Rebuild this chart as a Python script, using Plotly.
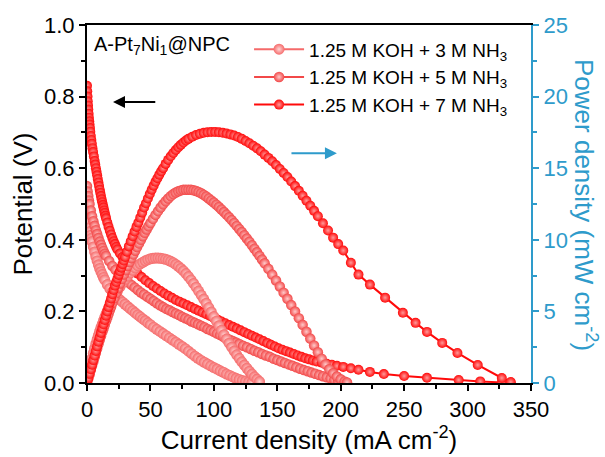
import plotly.graph_objects as go

# ---------------- data ----------------
labels = ["1.25 M KOH + 3 M NH<sub>3</sub>",
          "1.25 M KOH + 5 M NH<sub>3</sub>",
          "1.25 M KOH + 7 M NH<sub>3</sub>"]

# polarization curves: current density (mA cm-2) vs potential (V)
I_pol_3M = [0, 0.5, 1, 1.5, 2, 2.5, 3, 3.5, 4, 5,
            6, 7, 8, 9, 10, 11, 12, 13, 14, 16,
            18, 20, 22, 24, 26, 28, 30, 32, 34, 36,
            38, 40, 42, 44, 46, 48, 50, 52.5, 55, 57.5,
            60, 62.5, 65, 67.5, 70, 72.5, 75, 77.5, 80, 82.5,
            85, 87.5, 90, 92.5, 95, 97.5, 100, 102.5, 105, 107.5,
            110, 112.5, 115, 117.5, 120, 122.5, 125, 127.5, 130]
V_pol_3M = [0.50, 0.48, 0.462, 0.447, 0.434, 0.423, 0.413, 0.404, 0.395, 0.38,
            0.366, 0.353, 0.341, 0.33, 0.32, 0.311, 0.303, 0.295, 0.288, 0.275,
            0.264, 0.254, 0.246, 0.239, 0.232, 0.226, 0.22, 0.214, 0.208, 0.202,
            0.196, 0.19, 0.185, 0.179, 0.174, 0.168, 0.163, 0.156, 0.15, 0.144,
            0.138, 0.132, 0.126, 0.12, 0.114, 0.108, 0.102, 0.096, 0.089, 0.082,
            0.075, 0.069, 0.063, 0.058, 0.053, 0.048, 0.043, 0.039, 0.034, 0.03,
            0.025, 0.021, 0.017, 0.013, 0.01, 0.007, 0.005, 0.003, 0.001]

I_pol_5M = [0, 0.5, 1, 1.5, 2, 3, 4, 5, 6, 7,
            8, 9, 10, 11, 12, 13, 14, 15, 17.5, 20,
            22.5, 25, 27.5, 30, 32.5, 35, 37.5, 40, 42.5, 45,
            47.5, 50, 52.5, 55, 57.5, 60, 62.5, 65, 67.5, 70,
            72.5, 75, 77.5, 80, 82.5, 85, 87.5, 90, 92.5, 95,
            97.5, 100, 102.5, 105, 107.5, 110, 112.5, 115, 117.5, 120,
            123, 126, 129, 132, 135, 138, 141, 144, 147, 150,
            153, 156, 159, 162, 165, 168, 171, 174, 177, 180,
            183, 186, 189, 192, 195, 198, 201, 204]
V_pol_5M = [0.55, 0.535, 0.522, 0.51, 0.5, 0.482, 0.466, 0.452, 0.439, 0.427,
            0.416, 0.405, 0.395, 0.386, 0.377, 0.369, 0.361, 0.355, 0.341, 0.327,
            0.316, 0.305, 0.296, 0.288, 0.281, 0.274, 0.267, 0.26, 0.253, 0.247,
            0.241, 0.235, 0.229, 0.223, 0.217, 0.212, 0.207, 0.203, 0.198, 0.194,
            0.19, 0.185, 0.181, 0.177, 0.172, 0.168, 0.164, 0.16, 0.156, 0.151,
            0.147, 0.143, 0.138, 0.134, 0.129, 0.125, 0.121, 0.117, 0.113, 0.109,
            0.104, 0.1, 0.095, 0.09, 0.086, 0.081, 0.077, 0.073, 0.068, 0.064,
            0.06, 0.056, 0.052, 0.048, 0.044, 0.04, 0.036, 0.033, 0.029, 0.026,
            0.022, 0.019, 0.016, 0.013, 0.009, 0.006, 0.003, 0.001]

I_pol_7M = [0, 0.2, 0.4, 0.6, 0.8, 1.0, 1.25, 1.5, 1.75, 2.0,
            2.3, 2.6, 3.0, 3.4, 3.8, 4.3, 4.8, 5.4, 6.0, 6.5,
            7.0, 7.5, 8.0, 8.5, 9.0, 9.5, 10.0, 10.5, 11.0, 11.5,
            12.0, 12.5, 13.0, 13.5, 14.0, 14.5, 15.0, 16, 17, 18,
            19, 20, 21, 22, 23, 24, 26, 28, 30, 32,
            34, 36, 38, 40, 43, 46, 49, 52, 55, 58,
            61, 64, 67, 70, 73, 76, 79, 82, 85, 88,
            91, 94, 97, 100, 103, 106, 109, 112, 115, 118,
            121, 124, 127, 130, 133, 136, 139, 142, 145, 148,
            151, 154, 157, 160, 163, 166, 169, 172, 175, 178,
            181, 185, 189, 193, 197, 202, 208, 214, 223, 234,
            250, 268, 293, 310, 327, 334]
V_pol_7M = [0.83, 0.815, 0.80, 0.787, 0.775, 0.764, 0.752, 0.741, 0.731, 0.722,
            0.712, 0.702, 0.69, 0.679, 0.668, 0.656, 0.645, 0.633, 0.62, 0.61,
            0.60, 0.59, 0.58, 0.57, 0.56, 0.55, 0.54, 0.531, 0.522, 0.513,
            0.505, 0.497, 0.49, 0.482, 0.475, 0.467, 0.46, 0.448, 0.436, 0.425,
            0.415, 0.405, 0.396, 0.388, 0.38, 0.373, 0.362, 0.352, 0.343, 0.335,
            0.327, 0.319, 0.312, 0.305, 0.296, 0.287, 0.279, 0.271, 0.264, 0.257,
            0.25, 0.244, 0.238, 0.232, 0.227, 0.222, 0.217, 0.212, 0.207, 0.202,
            0.197, 0.192, 0.187, 0.182, 0.177, 0.172, 0.167, 0.162, 0.157, 0.152,
            0.147, 0.142, 0.137, 0.132, 0.127, 0.122, 0.117, 0.112, 0.107, 0.102,
            0.097, 0.093, 0.089, 0.085, 0.081, 0.077, 0.073, 0.069, 0.066, 0.063,
            0.06, 0.057, 0.054, 0.051, 0.048, 0.045, 0.041, 0.037, 0.031, 0.025,
            0.0195, 0.0145, 0.0085, 0.0045, 0.0015, 0.0005]

# power density curves: current density (mA cm-2) vs power density (mW cm-2)
I_pow_3M = [0, 1, 2, 3, 4, 5, 6, 7, 8, 9,
            10, 11, 12, 13, 14, 15, 16, 17, 18, 19,
            20, 22, 24, 26, 28, 30, 32, 34, 36, 38,
            40, 42, 44, 46, 48, 50, 52, 54, 56, 58,
            60, 62, 64, 66, 68, 70, 72, 74, 76, 78,
            80, 82, 84, 86, 88, 90, 92, 94, 96, 98,
            100, 102, 104, 106, 108, 110, 112, 114, 116, 118,
            120, 122, 124, 126, 128, 130, 132, 134, 136]
P_pow_3M = [0, 0.48, 0.93, 1.34, 1.72, 2.08, 2.42, 2.74, 3.04, 3.33,
            3.6, 3.86, 4.11, 4.35, 4.58, 4.8, 5.01, 5.21, 5.4, 5.58,
            5.76, 6.1, 6.42, 6.72, 6.99, 7.24, 7.47, 7.68, 7.87, 8.04,
            8.19, 8.32, 8.43, 8.53, 8.61, 8.67, 8.71, 8.73, 8.73, 8.71,
            8.68, 8.64, 8.58, 8.5, 8.4, 8.28, 8.15, 8.0, 7.83, 7.64,
            7.43, 7.2, 6.95, 6.69, 6.42, 6.14, 5.86, 5.57, 5.27, 4.96,
            4.64, 4.32, 4.0, 3.68, 3.37, 3.07, 2.78, 2.5, 2.23, 1.97,
            1.72, 1.48, 1.25, 1.03, 0.82, 0.62, 0.43, 0.26, 0.1]

I_pow_5M = [0, 1, 2, 3, 4, 5, 6, 7, 8, 9,
            10, 11, 12, 13, 14, 15, 16, 17, 18, 19,
            20, 21.5, 23, 24.5, 26, 27.5, 29, 30.5, 32, 33.5,
            35, 36.5, 38, 39.5, 41, 42.5, 44, 45.5, 47, 48.5,
            50, 52, 54, 56, 58, 60, 62, 64, 66, 68,
            70, 72, 74, 76, 78, 80, 82, 84, 86, 88,
            90, 92, 94, 96, 98, 100, 102, 104, 106, 108,
            110, 112, 114, 116, 118, 120, 122, 124, 126, 128,
            130, 132, 134, 136, 138, 140, 143, 146, 149, 152,
            155, 158, 161, 164, 167, 170, 173, 176, 179, 182,
            185, 188, 191, 194, 197, 200, 203, 205]
P_pow_5M = [0, 0.3, 0.6, 0.9, 1.2, 1.5, 1.8, 2.1, 2.4, 2.7,
            3.0, 3.27, 3.54, 3.8, 4.06, 4.32, 4.58, 4.83, 5.08, 5.33,
            5.58, 5.93, 6.28, 6.62, 6.95, 7.27, 7.58, 7.88, 8.17, 8.45,
            8.72, 8.98, 9.24, 9.5, 9.75, 10.0, 10.25, 10.49, 10.72, 10.95,
            11.17, 11.46, 11.74, 12.0, 12.25, 12.48, 12.69, 12.88, 13.05, 13.19,
            13.3, 13.39, 13.45, 13.49, 13.5, 13.5, 13.49, 13.46, 13.41, 13.34,
            13.25, 13.14, 13.02, 12.89, 12.75, 12.6, 12.45, 12.29, 12.12, 11.94,
            11.76, 11.57, 11.38, 11.18, 10.97, 10.76, 10.54, 10.32, 10.09, 9.86,
            9.62, 9.38, 9.13, 8.88, 8.62, 8.36, 7.97, 7.57, 7.16, 6.74,
            6.31, 5.88, 5.44, 4.99, 4.53, 4.06, 3.58, 3.1, 2.62, 2.15,
            1.7, 1.3, 0.96, 0.68, 0.45, 0.26, 0.11, 0.04]

I_pow_7M = [0, 1, 2, 3, 4, 5, 6, 7, 8, 9,
            10, 11, 12, 13, 14, 15, 16, 17, 18, 19,
            20, 21, 22, 23, 24, 25, 26, 27, 28, 29,
            30, 31.5, 33, 34.5, 36, 37.5, 39, 40.5, 42, 43.5,
            45, 46.5, 48, 49.5, 51, 52.5, 54, 55.5, 57, 58.5,
            60, 62, 64, 66, 68, 70, 72, 74, 76, 78,
            80, 83, 86, 89, 92, 95, 98, 101, 104, 107,
            110, 113, 116, 119, 122, 125, 128, 131, 134, 137,
            140, 143, 146, 149, 152, 155, 158, 161, 164, 167,
            170, 173, 176, 179, 182, 186, 190, 194, 198, 202,
            208, 214, 223, 235, 249, 259, 268, 280, 292, 308,
            327, 334]
P_pow_7M = [0, 0.32, 0.64, 0.96, 1.28, 1.6, 1.92, 2.24, 2.56, 2.88,
            3.2, 3.5, 3.8, 4.1, 4.4, 4.7, 5.0, 5.3, 5.6, 5.9,
            6.2, 6.5, 6.8, 7.05, 7.3, 7.55, 7.8, 8.05, 8.3, 8.55,
            8.8, 9.17, 9.54, 9.9, 10.25, 10.58, 10.9, 11.2, 11.55, 11.9,
            12.25, 12.55, 12.88, 13.2, 13.5, 13.78, 14.05, 14.3, 14.55, 14.78,
            15.0, 15.3, 15.58, 15.83, 16.06, 16.27, 16.46, 16.63, 16.79, 16.93,
            17.05, 17.2, 17.32, 17.41, 17.47, 17.51, 17.53, 17.53, 17.51, 17.47,
            17.42, 17.36, 17.28, 17.18, 17.05, 16.9, 16.74, 16.57, 16.39, 16.18,
            15.95, 15.72, 15.48, 15.22, 14.95, 14.67, 14.38, 14.07, 13.75, 13.42,
            13.08, 12.73, 12.38, 12.02, 11.65, 11.15, 10.65, 10.15, 9.7, 9.25,
            8.4, 7.57, 6.87, 5.96, 4.9, 4.2, 3.57, 2.8, 2.1, 1.26,
            0.35, 0.07]

x_ticks = [0, 50, 100, 150, 200, 250, 300, 350]
y_ticks = [0.0, 0.2, 0.4, 0.6, 0.8, 1.0]
y2_ticks = [0, 5, 10, 15, 20, 25]

# ---------------- styling ----------------
FONT = "Liberation Sans, Arial, sans-serif"
BLUE = "#2E9BCB"
colors = ["#F56A6A", "#F24848", "#FF0A0A"]
highlights = ["#FFD6D6", "#FFCACA", "#FF9A9A"]
sizes = [11, 10.5, 10]

pol_sets = [(I_pol_3M, V_pol_3M), (I_pol_5M, V_pol_5M), (I_pol_7M, V_pol_7M)]
pow_sets = [(I_pow_3M, P_pow_3M), (I_pow_5M, P_pow_5M), (I_pow_7M, P_pow_7M)]

fig = go.Figure()


def marker(k):
    return dict(size=sizes[k], color=colors[k],
                gradient=dict(type="radial", color=highlights[k]),
                line=dict(width=0))


for k, (xs, ys) in enumerate(pol_sets):
    fig.add_trace(go.Scatter(x=xs, y=ys, mode="lines+markers", name=labels[k],
                             legendgroup=str(k), showlegend=True,
                             line=dict(color=colors[k], width=2),
                             marker=marker(k), yaxis="y"))
for k, (xs, ys) in enumerate(pow_sets):
    fig.add_trace(go.Scatter(x=xs, y=ys, mode="lines+markers", name=labels[k],
                             legendgroup=str(k), showlegend=False,
                             line=dict(color=colors[k], width=2),
                             marker=marker(k), yaxis="y2"))

axis_common = dict(showgrid=False, zeroline=False, ticks="outside", ticklen=6,
                   tickwidth=2, linewidth=2)

fig.update_layout(
    width=605, height=457,
    margin=dict(l=87, r=74, t=25, b=74),
    paper_bgcolor="white", plot_bgcolor="white",
    font=dict(family=FONT, color="black", size=19),
    showlegend=True,
    legend=dict(x=0.365, y=0.985, xanchor="left", yanchor="top",
                bgcolor="rgba(0,0,0,0)", font=dict(size=19, family=FONT),
                tracegroupgap=0, itemwidth=50),
    xaxis=dict(range=[0, 350], tickvals=x_ticks, linecolor="black",
               tickcolor="black", mirror=True,
               tickfont=dict(size=22, family=FONT),
               title=dict(text="Current density (mA cm<sup>-2</sup>)",
                          font=dict(size=26, family=FONT), standoff=4),
               minor=dict(dtick=25, ticklen=4, tickwidth=2, ticks="outside",
                          tickcolor="black"),
               **axis_common),
    yaxis=dict(range=[0, 1.0], tickvals=y_ticks, tickformat=".1f",
               linecolor="black", tickcolor="black",
               tickfont=dict(size=22, family=FONT),
               title=dict(text="Potential (V)", font=dict(size=26, family=FONT),
                          standoff=4),
               minor=dict(dtick=0.1, ticklen=4, tickwidth=2, ticks="outside",
                          tickcolor="black"),
               **axis_common),
    yaxis2=dict(range=[0, 25], tickvals=y2_ticks, overlaying="y", side="right",
                linecolor=BLUE, tickcolor=BLUE,
                tickfont=dict(size=22, family=FONT, color=BLUE),
                minor=dict(dtick=2.5, ticklen=4, tickwidth=2, ticks="outside",
                           tickcolor=BLUE),
                **axis_common),
    annotations=[
        dict(text="A-Pt<sub>7</sub>Ni<sub>1</sub>@NPC", xref="paper", yref="paper",
             x=0.012, y=0.944, xanchor="left", yanchor="middle", showarrow=False,
             font=dict(size=20, family=FONT, color="black")),
        dict(text="Power density (mW cm<sup>-2</sup>)", xref="paper", yref="paper",
             x=1.124, y=0.497, xanchor="center", yanchor="middle", showarrow=False,
             textangle=90, font=dict(size=26, family=FONT, color=BLUE)),
        dict(x=20.5, y=0.785, ax=55, ay=0.785, xref="x", yref="y",
             axref="x", ayref="y", text="", showarrow=True, arrowhead=2,
             arrowsize=1.2, arrowwidth=2, arrowcolor="black"),
        dict(x=197, y=0.642, ax=160, ay=0.642, xref="x", yref="y",
             axref="x", ayref="y", text="", showarrow=True, arrowhead=2,
             arrowsize=1.2, arrowwidth=2, arrowcolor=BLUE),
    ],
)

fig.write_html("out.html")
